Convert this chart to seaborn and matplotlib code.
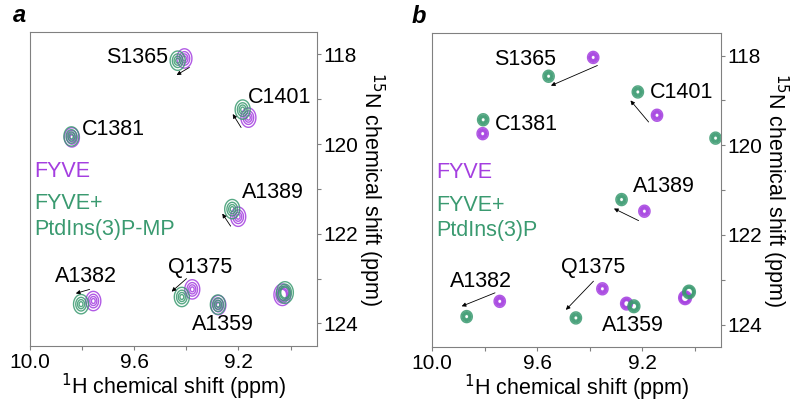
import numpy as np
import seaborn as sns
import matplotlib.pyplot as plt

# === Peak lists (1H ppm, 15N ppm) ===
# panel a: FYVE vs FYVE + PtdIns(3)P-MP
a_free_h = [9.407, 9.162, 9.838, 9.201, 9.756, 9.377, 9.277, 9.032]
a_free_n = [118.09, 119.41, 119.85, 121.62, 123.50, 123.24, 123.59, 123.36]
a_free_i = [1.0, 1.0, 1.0, 1.0, 1.0, 1.0, 1.0, 1.5]
a_bound_h = [9.433, 9.184, 9.840, 9.224, 9.803, 9.417, 9.279, 9.022]
a_bound_n = [118.14, 119.23, 119.83, 121.45, 123.57, 123.41, 123.58, 123.31]
a_bound_i = [1.0, 1.0, 1.0, 1.0, 1.0, 1.0, 1.0, 1.5]

# panel b: FYVE vs FYVE + PtdIns(3)P
b_free_h = [9.386, 9.143, 9.807, 9.191, 9.742, 9.351, 9.259, 9.036]
b_free_n = [118.04, 119.33, 119.74, 121.47, 123.48, 123.20, 123.53, 123.40]
b_free_i = [1.0, 1.0, 1.0, 1.0, 1.0, 1.0, 1.2, 1.6]
b_bound_h = [9.556, 9.216, 9.805, 9.278, 9.868, 9.452, 9.231, 9.021, 8.920]
b_bound_n = [118.46, 118.81, 119.43, 121.21, 123.82, 123.85, 123.59, 123.27, 119.84]
b_bound_i = [1.0, 1.0, 1.0, 1.0, 1.0, 1.0, 1.2, 1.5, 1.0]

# residue labels
res_names = ["S1365", "C1401", "C1381", "A1389", "A1382", "Q1375", "A1359"]
a_lab_h = [9.590, 9.041, 9.679, 9.069, 9.784, 9.345, 9.260]
a_lab_n = [118.07, 118.97, 119.67, 121.08, 122.96, 122.75, 124.03]
b_lab_h = [9.647, 9.051, 9.641, 9.118, 9.813, 9.386, 9.234]
b_lab_n = [118.09, 118.83, 119.54, 120.92, 123.03, 122.72, 124.02]

# shift arrows (start -> end)
a_arr_h0 = [9.388, 9.190, 9.230, 9.770, 9.399]
a_arr_n0 = [118.29, 119.63, 121.83, 123.24, 123.00]
a_arr_h1 = [9.437, 9.222, 9.262, 9.823, 9.456]
a_arr_n1 = [118.46, 119.33, 121.55, 123.33, 123.29]
b_arr_h0 = [9.370, 9.175, 9.213, 9.760, 9.385]
b_arr_n0 = [118.22, 119.48, 121.68, 123.29, 123.03]
b_arr_h1 = [9.547, 9.244, 9.307, 9.887, 9.490]
b_arr_n1 = [118.67, 119.00, 121.41, 123.59, 123.67]

purple = "#a43ee0"
green = "#3a9a70"
xlim = (10.0, 8.9)
ylim = (124.5, 117.5)

sns.set_style("ticks")
plt.rcParams["font.family"] = ["Liberation Sans", "DejaVu Sans"]
plt.rcParams["text.color"] = "black"
plt.rcParams["axes.labelcolor"] = "black"

fig = plt.figure(figsize=(8, 4.05), dpi=100)
ax_a = fig.add_axes([0.037, 0.146, 0.359, 0.775])
ax_b = fig.add_axes([0.540, 0.143, 0.361, 0.775])

gx = np.linspace(8.85, 10.05, 900)
gy = np.linspace(117.4, 124.6, 900)
GX, GY = np.meshgrid(gx, gy)


def spectrum(hs, ns, amps, sx, sy):
    z = np.zeros_like(GX)
    for h, n, amp in zip(hs, ns, amps):
        z += amp * np.exp(-((GX - h) ** 2) / (2 * sx ** 2) - ((GY - n) ** 2) / (2 * sy ** 2))
    return z


def panel(ax, letter, lx, free, bound, sig, levels, lab_h, lab_n, arr, legend2):
    zf = spectrum(*free, *sig)
    zb = spectrum(*bound, *sig)
    ax.contour(GX, GY, zf, levels=levels, colors=purple, linewidths=1.0, alpha=0.85)
    ax.contour(GX, GY, zb, levels=levels, colors=green, linewidths=1.0, alpha=0.85)

    for name, h, n in zip(res_names, lab_h, lab_n):
        ax.text(h, n, name, ha="center", va="center", fontsize=15.5, color="black")
    for h0, n0, h1, n1 in zip(*arr):
        ax.annotate("", xy=(h1, n1), xytext=(h0, n0),
                    arrowprops=dict(arrowstyle="-|>", color="black", lw=0.6,
                                    mutation_scale=6, shrinkA=0, shrinkB=0))

    ax.text(0.015, 0.555, "FYVE", transform=ax.transAxes, color=purple,
            fontsize=15.5, va="center", ha="left")
    ax.text(0.015, 0.452, "FYVE+", transform=ax.transAxes, color=green,
            fontsize=15.5, va="center", ha="left")
    ax.text(0.015, 0.372, legend2, transform=ax.transAxes, color=green,
            fontsize=15.5, va="center", ha="left")

    ax.set_xlim(*xlim)
    ax.set_ylim(*ylim)
    ax.set_xticks(np.arange(10.0, 8.89, -0.2))
    ax.set_xticklabels(["10.0", "", "9.6", "", "9.2", ""])
    ax.set_yticks([118, 119, 120, 121, 122, 123, 124])
    ax.set_yticklabels(["118", "", "120", "", "122", "", "124"])
    ax.yaxis.tick_right()
    ax.yaxis.set_label_position("right")
    ax.tick_params(labelsize=15, length=3, width=0.8, color="#808080",
                   labelcolor="black", pad=2)
    ax.set_xlabel("$^{1}$H chemical shift (ppm)", fontsize=15.5, labelpad=0)
    ax.set_ylabel("$^{15}$N chemical shift (ppm)", fontsize=15.5, rotation=-90,
                  labelpad=20)
    for s in ax.spines.values():
        s.set_visible(True)
        s.set_color("#808080")
        s.set_linewidth(0.8)
    ax.text(lx, 1.054, letter, transform=ax.transAxes, fontsize=17,
            fontweight="bold", fontstyle="italic", ha="left", va="center")


panel(ax_a, "a", -0.058,
      (a_free_h, a_free_n, a_free_i), (a_bound_h, a_bound_n, a_bound_i),
      (0.016, 0.12), [0.2, 0.45, 0.7, 0.9],
      a_lab_h, a_lab_n, (a_arr_h0, a_arr_n0, a_arr_h1, a_arr_n1),
      "PtdIns(3)P-MP")
panel(ax_b, "b", -0.072,
      (b_free_h, b_free_n, b_free_i), (b_bound_h, b_bound_n, b_bound_i),
      (0.012, 0.075), [0.2, 0.35, 0.5, 0.65, 0.8],
      b_lab_h, b_lab_n, (b_arr_h0, b_arr_n0, b_arr_h1, b_arr_n1),
      "PtdIns(3)P")

fig.savefig("out.png", dpi=100)
